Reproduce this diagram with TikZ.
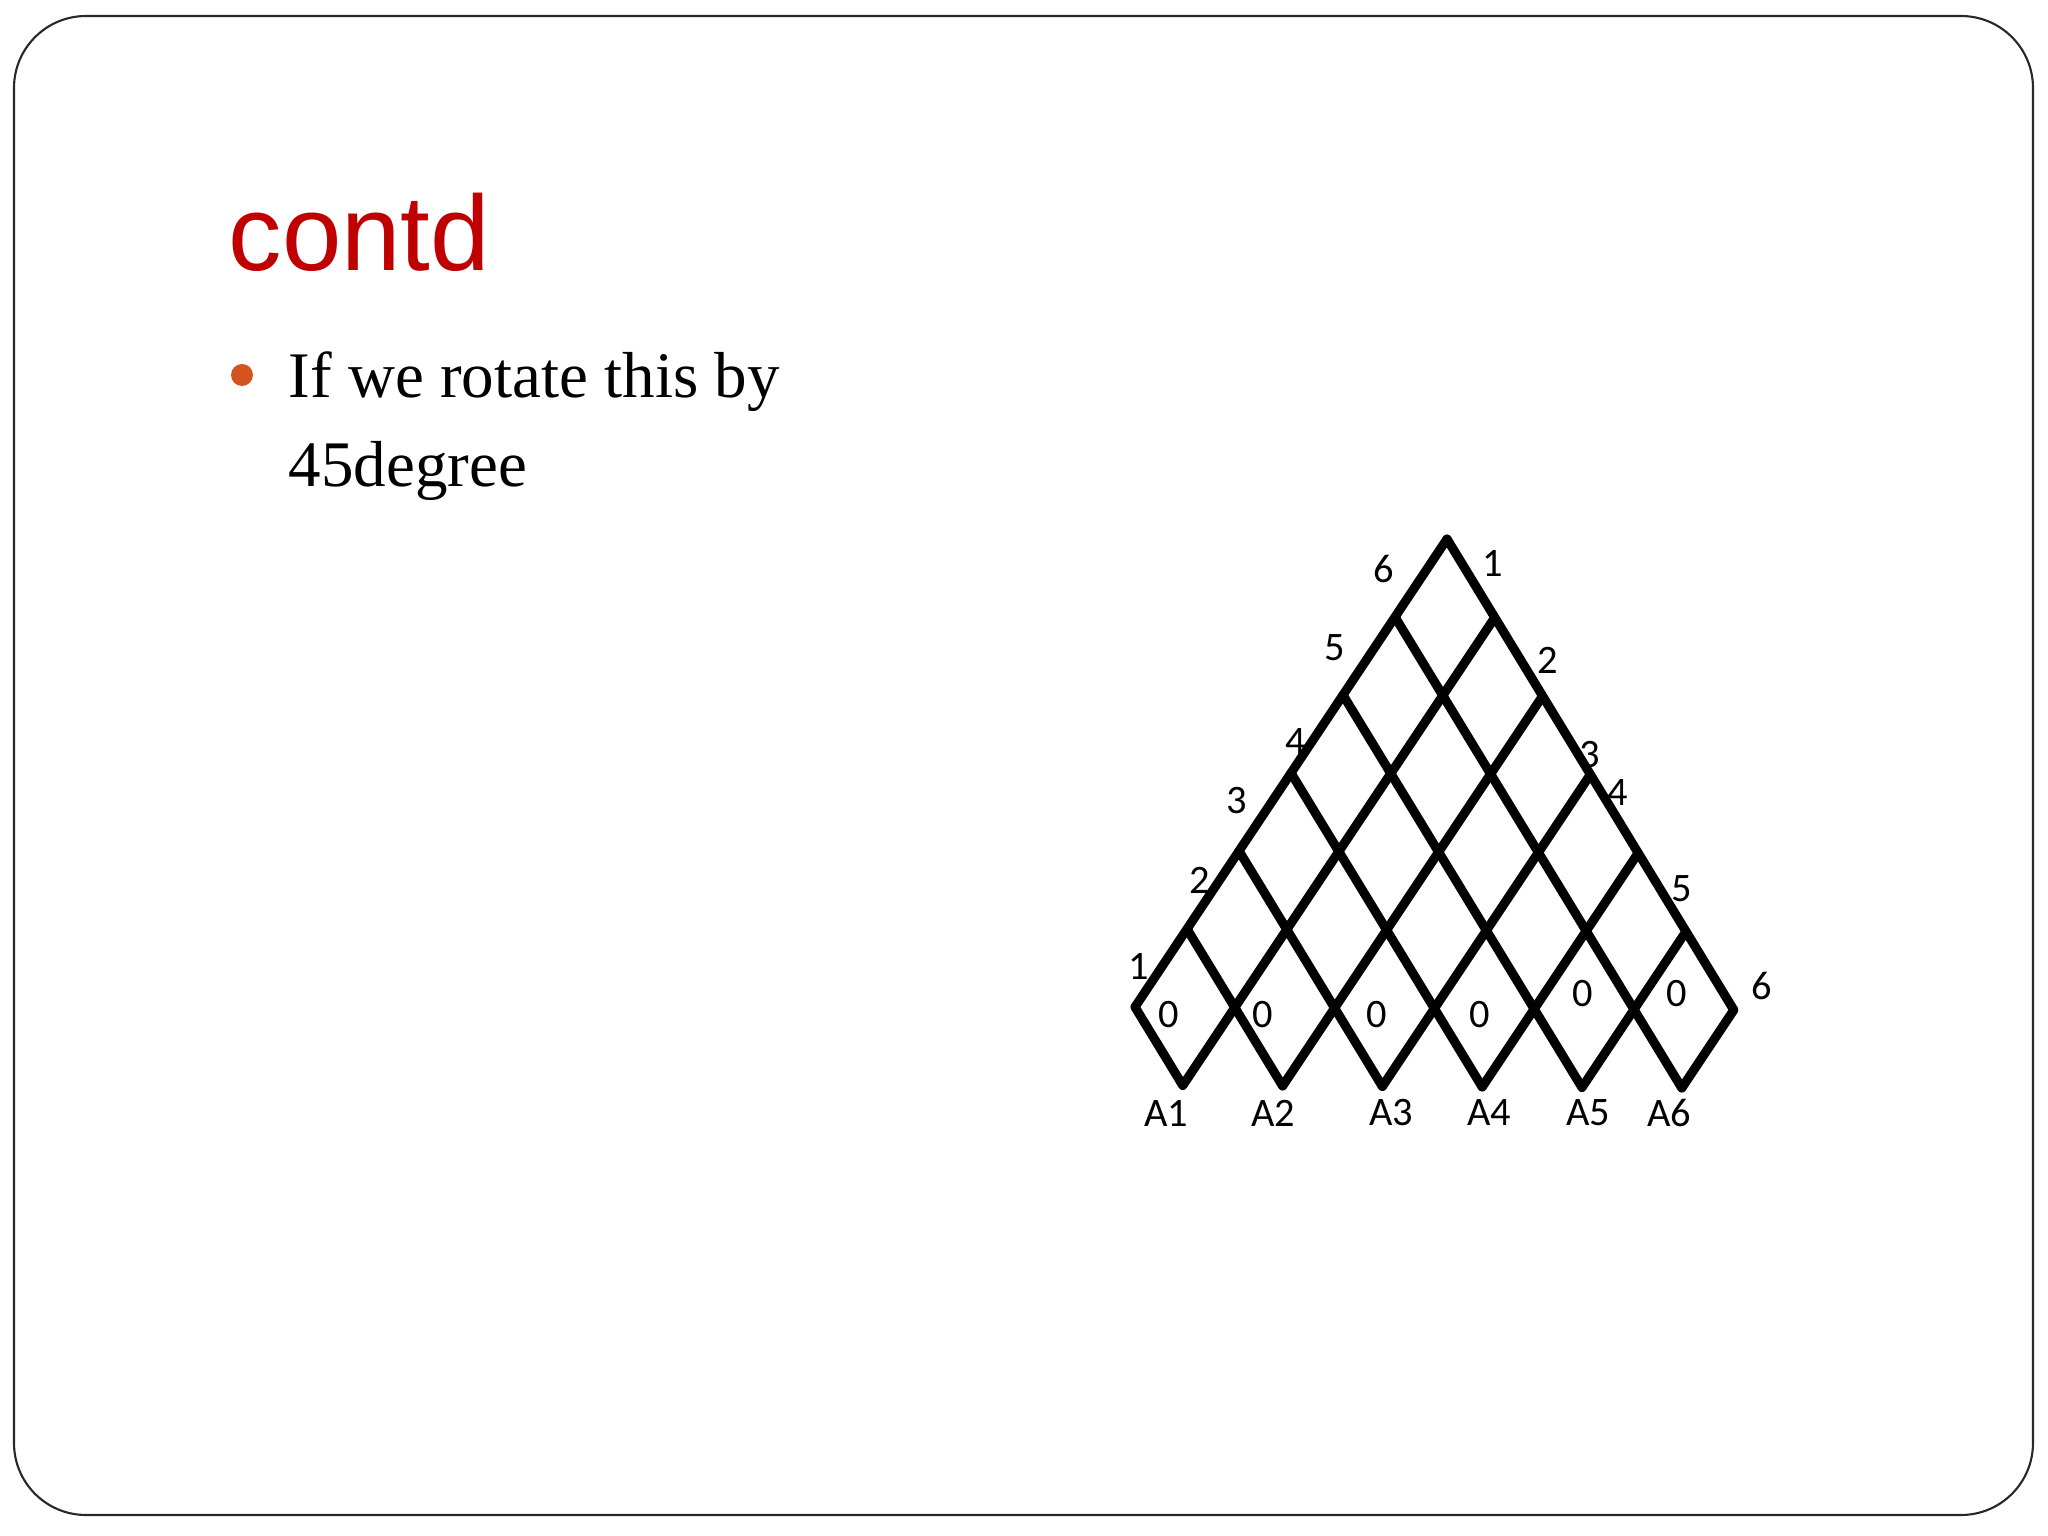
\documentclass[tikz,border=0pt]{standalone}
\usepackage{fontspec}
\usepackage{xcolor}
\newfontfamily\titlefont{Liberation Sans}
\newfontfamily\bodyfont{Liberation Serif}
\newfontfamily\labelfont{Carlito}
\definecolor{titlered}{RGB}{192,0,0}
\definecolor{bulletorange}{RGB}{211,84,30}
\definecolor{framegray}{RGB}{40,40,40}
\tikzset{
  gridline/.style={line width=2.6pt, black, line cap=round, line join=round},
  numlabel/.style={font=\labelfont\fontsize{11.5pt}{13pt}\selectfont, inner sep=0pt},
  bodytext/.style={anchor=base west, inner sep=0pt, font=\bodyfont\fontsize{18.5pt}{22pt}\selectfont},
}

\begin{document}
\begin{tikzpicture}
  \useasboundingbox (0, 0) rectangle (20.48, -15.36);

  % Slide frame
  \draw[line width=0.6pt, framegray, rounded corners=0.72cm] (0.14, -0.16) rectangle (20.33, -15.15);

  % Title
  \node[anchor=base west, inner sep=0pt, text=titlered,
        font=\titlefont\fontsize{30.4pt}{36pt}\selectfont] (title) at (2.28, -2.71) {contd};

  % Bullet text
  \fill[bulletorange] (2.42, -3.75) circle (0.11);
  \node[bodytext] (lineone) at (2.88, -3.98) {If we rotate this by};
  \node[bodytext] (linetwo) at (2.88, -4.87) {45degree};

  % Lattice points
  \foreach \a in {0,...,7}
    \foreach \b in {0,...,7}
      \coordinate (p\a\b) at ({14.47 - 0.52*\a + 0.478*\b}, {-5.39 - 0.78*\a - 0.785*\b});

  % Lattice lines
  \foreach \a/\m in {0/6, 1/6, 2/5, 3/4, 4/3, 5/2, 6/1}
    \draw[gridline] (p\a0) -- (p\a\m);
  \foreach \b/\m in {0/6, 1/6, 2/5, 3/4, 4/3, 5/2, 6/1}
    \draw[gridline] (p0\b) -- (p\m\b);

  % Left side numbers
  \node[numlabel] (left1) at (11.39,  -9.66) {1};
  \node[numlabel] (left2) at (12.00,  -8.80) {2};
  \node[numlabel] (left3) at (12.37,  -8.01) {3};
  \node[numlabel] (left4) at (12.96,  -7.42) {4};
  \node[numlabel] (left5) at (13.35,  -6.48) {5};
  \node[numlabel] (left6) at (13.84,  -5.69) {6};

  % Right side numbers
  \node[numlabel] (right1) at (14.93, -5.63) {1};
  \node[numlabel] (right2) at (15.48, -6.60) {2};
  \node[numlabel] (right3) at (15.90, -7.55) {3};
  \node[numlabel] (right4) at (16.18, -7.93) {4};
  \node[numlabel] (right5) at (16.82, -8.89) {5};
  \node[numlabel] (right6) at (17.62, -9.86) {6};

  % Zeros in bottom row
  \node[numlabel] (zero1) at (11.69, -10.15) {0};
  \node[numlabel] (zero2) at (12.63, -10.15) {0};
  \node[numlabel] (zero3) at (13.77, -10.15) {0};
  \node[numlabel] (zero4) at (14.80, -10.15) {0};
  \node[numlabel] (zero5) at (15.83,  -9.94) {0};
  \node[numlabel] (zero6) at (16.77,  -9.94) {0};

  % Bottom names
  \node[numlabel] (nameA1) at (11.66, -11.13) {A1};
  \node[numlabel] (nameA2) at (12.73, -11.13) {A2};
  \node[numlabel] (nameA3) at (13.91, -11.13) {A3};
  \node[numlabel] (nameA4) at (14.89, -11.13) {A4};
  \node[numlabel] (nameA5) at (15.88, -11.13) {A5};
  \node[numlabel] (nameA6) at (16.69, -11.13) {A6};
\end{tikzpicture}
\end{document}
